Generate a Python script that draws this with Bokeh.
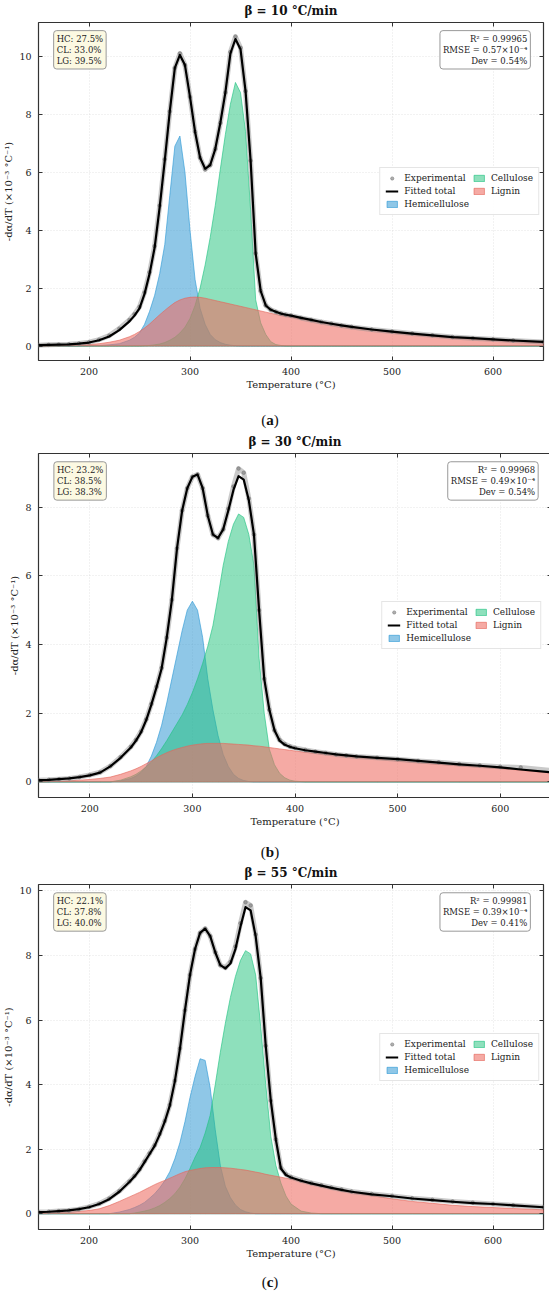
from bokeh.plotting import figure
from bokeh.models import (Range1d, LinearAxis, SingleIntervalTicker, Legend,
                          LegendItem, Label, Div)
from bokeh.layouts import column
from bokeh.embed import file_html
from bokeh.resources import INLINE

FONT = "DejaVu Serif"

# ---------------- data ----------------
temperature = [150, 160, 170, 180, 190, 200, 210, 220, 230, 240,
               245, 250, 255, 260, 265, 270, 275, 280, 285, 290,
               295, 300, 305, 310, 315, 320, 325, 330, 335, 340,
               345, 350, 355, 360, 365, 370, 375, 380, 385, 390,
               395, 400, 410, 420, 430, 440, 450, 460, 480, 500,
               520, 540, 560, 580, 600, 620, 650]

# beta = 10 C/min
fit_a = [0.03, 0.04, 0.05, 0.06, 0.08, 0.12, 0.20, 0.33, 0.55, 0.85,
         1.05, 1.30, 1.80, 2.50, 3.40, 4.80, 6.40, 8.10, 9.60, 10.05,
         9.70, 8.60, 7.40, 6.50, 6.12, 6.25, 6.80, 7.70, 8.75, 10.10,
         10.60, 10.25, 8.80, 6.40, 3.20, 1.90, 1.40, 1.25, 1.18, 1.12,
         1.08, 1.05, 0.97, 0.90, 0.83, 0.77, 0.71, 0.66, 0.57, 0.50,
         0.43, 0.37, 0.31, 0.27, 0.23, 0.19, 0.14]
exp_a = [0.03, 0.04, 0.05, 0.06, 0.09, 0.13, 0.22, 0.36, 0.60, 0.90,
         1.10, 1.35, 1.85, 2.55, 3.45, 4.85, 6.45, 8.10, 9.60, 10.10,
         9.70, 8.60, 7.40, 6.50, 6.10, 6.25, 6.80, 7.70, 8.75, 10.15,
         10.68, 10.30, 8.80, 6.40, 3.20, 1.90, 1.40, 1.25, 1.18, 1.12,
         1.08, 1.05, 0.97, 0.90, 0.83, 0.77, 0.71, 0.66, 0.57, 0.50,
         0.43, 0.37, 0.31, 0.27, 0.23, 0.19, 0.14]
hc_a = [0.0, 0.0, 0.0, 0.0, 0.0, 0.01, 0.02, 0.04, 0.08, 0.20,
        0.30, 0.45, 0.75, 1.20, 1.75, 2.50, 3.50, 5.20, 6.90, 7.25,
        6.00, 4.00, 2.30, 1.30, 0.75, 0.40, 0.22, 0.12, 0.06, 0.03,
        0.01, 0.0, 0.0, 0.0, 0.0, 0.0, 0.0, 0.0, 0.0, 0.0,
        0.0, 0.0, 0.0, 0.0, 0.0, 0.0, 0.0, 0.0, 0.0, 0.0,
        0.0, 0.0, 0.0, 0.0, 0.0, 0.0, 0.0]
cl_a = [0.0, 0.0, 0.0, 0.0, 0.0, 0.0, 0.0, 0.0, 0.0, 0.0,
        0.0, 0.0, 0.01, 0.02, 0.04, 0.07, 0.12, 0.20, 0.30, 0.45,
        0.65, 0.95, 1.40, 2.00, 2.80, 3.75, 4.85, 6.10, 7.30, 8.35,
        9.10, 8.75, 7.40, 4.70, 1.60, 0.80, 0.40, 0.15, 0.05, 0.02,
        0.0, 0.0, 0.0, 0.0, 0.0, 0.0, 0.0, 0.0, 0.0, 0.0,
        0.0, 0.0, 0.0, 0.0, 0.0, 0.0, 0.0]
lg_a = [0.0, 0.0, 0.01, 0.02, 0.03, 0.05, 0.08, 0.13, 0.20, 0.32,
        0.40, 0.50, 0.62, 0.76, 0.92, 1.08, 1.23, 1.37, 1.50, 1.59,
        1.65, 1.68, 1.69, 1.68, 1.65, 1.61, 1.57, 1.53, 1.49, 1.45,
        1.41, 1.37, 1.33, 1.29, 1.25, 1.21, 1.17, 1.13, 1.09, 1.06,
        1.03, 1.00, 0.94, 0.88, 0.82, 0.76, 0.71, 0.65, 0.56, 0.47,
        0.40, 0.34, 0.28, 0.24, 0.20, 0.16, 0.12]

# beta = 30 C/min
fit_b = [0.05, 0.06, 0.08, 0.10, 0.14, 0.19, 0.27, 0.45, 0.70, 1.00,
         1.20, 1.45, 1.80, 2.25, 2.75, 3.30, 4.20, 5.30, 6.80, 7.90,
         8.55, 8.88, 8.95, 8.55, 7.75, 7.20, 7.10, 7.35, 7.90, 8.50,
         8.90, 8.80, 8.20, 7.20, 5.00, 3.00, 2.10, 1.50, 1.20, 1.08,
         1.02, 0.98, 0.92, 0.88, 0.84, 0.80, 0.77, 0.74, 0.70, 0.66,
         0.61, 0.56, 0.51, 0.47, 0.42, 0.36, 0.28]
exp_b = [0.05, 0.06, 0.08, 0.10, 0.14, 0.20, 0.28, 0.46, 0.72, 1.02,
         1.22, 1.47, 1.82, 2.27, 2.77, 3.32, 4.20, 5.30, 6.80, 7.90,
         8.55, 8.88, 8.95, 8.55, 7.75, 7.20, 7.10, 7.35, 7.95, 8.60,
         9.12, 9.00, 8.25, 7.20, 5.00, 3.00, 2.10, 1.50, 1.22, 1.10,
         1.03, 0.99, 0.93, 0.88, 0.84, 0.80, 0.77, 0.74, 0.70, 0.66,
         0.61, 0.57, 0.52, 0.48, 0.44, 0.42, 0.33]
hc_b = [0.0, 0.0, 0.0, 0.0, 0.0, 0.0, 0.0, 0.0, 0.03, 0.10,
        0.17, 0.28, 0.45, 0.75, 1.15, 1.65, 2.30, 3.00, 3.70, 4.40,
        5.00, 5.26, 5.00, 4.20, 3.00, 2.10, 1.35, 0.80, 0.45, 0.22,
        0.10, 0.04, 0.01, 0.0, 0.0, 0.0, 0.0, 0.0, 0.0, 0.0,
        0.0, 0.0, 0.0, 0.0, 0.0, 0.0, 0.0, 0.0, 0.0, 0.0,
        0.0, 0.0, 0.0, 0.0, 0.0, 0.0, 0.0]
cl_b = [0.0, 0.0, 0.0, 0.0, 0.0, 0.0, 0.0, 0.0, 0.05, 0.15,
        0.22, 0.32, 0.44, 0.58, 0.76, 0.97, 1.20, 1.45, 1.70, 1.95,
        2.25, 2.60, 3.00, 3.45, 3.95, 4.55, 5.40, 6.30, 7.00, 7.50,
        7.80, 7.70, 7.20, 6.30, 3.60, 2.00, 0.95, 0.50, 0.25, 0.12,
        0.05, 0.02, 0.0, 0.0, 0.0, 0.0, 0.0, 0.0, 0.0, 0.0,
        0.0, 0.0, 0.0, 0.0, 0.0, 0.0, 0.0]
lg_b = [0.0, 0.01, 0.02, 0.03, 0.05, 0.07, 0.10, 0.14, 0.22, 0.32,
        0.38, 0.45, 0.53, 0.61, 0.70, 0.78, 0.85, 0.91, 0.96, 1.00,
        1.04, 1.07, 1.09, 1.11, 1.12, 1.12, 1.12, 1.12, 1.11, 1.10,
        1.09, 1.08, 1.07, 1.05, 1.04, 1.02, 1.00, 0.98, 0.96, 0.94,
        0.92, 0.90, 0.86, 0.83, 0.80, 0.77, 0.74, 0.71, 0.66, 0.61,
        0.56, 0.51, 0.47, 0.43, 0.39, 0.34, 0.26]

# beta = 55 C/min
fit_c = [0.05, 0.06, 0.08, 0.10, 0.14, 0.20, 0.30, 0.45, 0.68, 0.98,
         1.15, 1.35, 1.60, 1.85, 2.10, 2.45, 2.85, 3.35, 4.10, 5.10,
         6.30, 7.40, 8.20, 8.70, 8.83, 8.60, 8.10, 7.70, 7.60, 7.75,
         8.20, 8.90, 9.50, 9.40, 8.60, 7.30, 5.20, 3.50, 2.30, 1.40,
         1.20, 1.12, 1.02, 0.94, 0.87, 0.80, 0.74, 0.68, 0.60, 0.54,
         0.47, 0.42, 0.37, 0.33, 0.30, 0.26, 0.20]
exp_c = [0.05, 0.06, 0.08, 0.10, 0.14, 0.21, 0.31, 0.47, 0.70, 1.00,
         1.17, 1.37, 1.62, 1.87, 2.12, 2.47, 2.87, 3.37, 4.12, 5.12,
         6.30, 7.40, 8.20, 8.70, 8.83, 8.60, 8.10, 7.70, 7.62, 7.80,
         8.28, 9.00, 9.65, 9.55, 8.65, 7.30, 5.20, 3.50, 2.30, 1.42,
         1.22, 1.13, 1.03, 0.95, 0.88, 0.81, 0.75, 0.69, 0.61, 0.55,
         0.48, 0.43, 0.38, 0.34, 0.30, 0.26, 0.20]
hc_c = [0.0, 0.0, 0.0, 0.0, 0.0, 0.0, 0.0, 0.0, 0.05, 0.13,
        0.19, 0.26, 0.35, 0.48, 0.62, 0.80, 1.02, 1.30, 1.70, 2.20,
        2.85, 3.60, 4.25, 4.80, 4.75, 3.90, 2.60, 1.50, 0.85, 0.50,
        0.27, 0.13, 0.06, 0.02, 0.0, 0.0, 0.0, 0.0, 0.0, 0.0,
        0.0, 0.0, 0.0, 0.0, 0.0, 0.0, 0.0, 0.0, 0.0, 0.0,
        0.0, 0.0, 0.0, 0.0, 0.0, 0.0, 0.0]
cl_c = [0.0, 0.0, 0.0, 0.0, 0.0, 0.0, 0.0, 0.0, 0.0, 0.0,
        0.02, 0.05, 0.08, 0.12, 0.18, 0.25, 0.35, 0.47, 0.62, 0.82,
        1.08, 1.40, 1.75, 2.05, 2.50, 3.05, 4.00, 5.00, 5.90, 6.70,
        7.35, 7.85, 8.15, 8.05, 7.40, 5.80, 4.00, 2.40, 1.50, 0.95,
        0.55, 0.30, 0.08, 0.02, 0.0, 0.0, 0.0, 0.0, 0.0, 0.0,
        0.0, 0.0, 0.0, 0.0, 0.0, 0.0, 0.0]
lg_c = [0.01, 0.02, 0.03, 0.05, 0.07, 0.10, 0.15, 0.25, 0.38, 0.52,
        0.59, 0.66, 0.74, 0.82, 0.90, 0.97, 1.03, 1.10, 1.17, 1.24,
        1.30, 1.34, 1.37, 1.40, 1.42, 1.43, 1.43, 1.43, 1.42, 1.41,
        1.39, 1.37, 1.35, 1.32, 1.29, 1.26, 1.22, 1.19, 1.16, 1.13,
        1.10, 1.07, 1.00, 0.93, 0.86, 0.80, 0.73, 0.67, 0.56, 0.46,
        0.38, 0.32, 0.26, 0.22, 0.19, 0.16, 0.12]

titles = ["β = 10 °C/min", "β = 30 °C/min", "β = 55 °C/min"]
fraction_text = ["HC: 27.5%\nCL: 33.0%\nLG: 39.5%",
                 "HC: 23.2%\nCL: 38.5%\nLG: 38.3%",
                 "HC: 22.1%\nCL: 37.8%\nLG: 40.0%"]
stats_text = ["R² = 0.99965\nRMSE = 0.57×10⁻⁴\nDev = 0.54%",
              "R² = 0.99968\nRMSE = 0.49×10⁻⁴\nDev = 0.54%",
              "R² = 0.99981\nRMSE = 0.39×10⁻⁴\nDev = 0.41%"]
captions = ["a", "b", "c"]
x_limits = (150, 650)
y_limits = [(-0.50, 11.17), (-0.455, 9.56), (-0.49, 10.20)]

series = [(exp_a, fit_a, hc_a, cl_a, lg_a),
          (exp_b, fit_b, hc_b, cl_b, lg_b),
          (exp_c, fit_c, hc_c, cl_c, lg_c)]

# layout (page pixels)
frame_heights = [338, 344, 345]
frame_widths = [505, 513, 505]
left_borders = [31, 24, 31]
top_borders = [18, 20, 20]
caption_heights = [27, 21, 17]
caption_pad = [7, 2, 0]

HC_COL, HC_EDGE = "#1f8fd0", "#2f9ad6"
CL_COL, CL_EDGE = "#1dc179", "#22c383"
LG_COL, LG_EDGE = "#ee6c62", "#e5675c"


def make_panel(i):
    exp, fit, hc, cl, lg = series[i]
    y0, y1 = y_limits[i]
    p = figure(frame_width=frame_widths[i], frame_height=frame_heights[i],
               output_backend="svg",
               toolbar_location=None, x_range=Range1d(*x_limits),
               y_range=Range1d(y0, y1),
               min_border_left=left_borders[i], min_border_right=3,
               min_border_top=top_borders[i], min_border_bottom=44,
               margin=0)
    p.background_fill_color = "white"
    p.border_fill_color = "white"
    p.outline_line_color = "#333333"
    p.outline_line_width = 1.2

    p.title.text = titles[i]
    p.title.align = "center"
    p.title.text_font = FONT
    p.title.text_font_size = "12px"
    p.title.text_font_style = "bold"
    p.title.text_color = "#111111"
    p.title.standoff = 2
    p.title.offset = 0

    xt = SingleIntervalTicker(interval=100)
    yt = SingleIntervalTicker(interval=2)
    p.xaxis.ticker = xt
    p.yaxis.ticker = yt
    for ax in (p.xaxis[0], p.yaxis[0]):
        ax.axis_line_color = None
        ax.major_tick_in = 4
        ax.major_tick_out = 0
        ax.major_tick_line_color = "#333333"
        ax.minor_tick_line_color = None
        ax.major_label_text_font = FONT
        ax.major_label_text_font_size = "9.5px"
        ax.major_label_text_color = "#222222"
        ax.major_label_standoff = 3
        ax.axis_label_text_font = FONT
        ax.axis_label_text_font_size = "10px"
        ax.axis_label_text_font_style = "normal"
        ax.axis_label_text_color = "#222222"
        ax.axis_label_standoff = 2
    p.xaxis.axis_label_standoff = 1
    p.xaxis.axis_label = "Temperature (°C)"
    p.yaxis.axis_label = "-dα/dT (×10⁻³ °C⁻¹)"

    for side, tk in (("right", yt), ("above", xt)):
        ax = LinearAxis(ticker=tk)
        ax.axis_line_color = None
        ax.major_tick_in = 4
        ax.major_tick_out = 0
        ax.major_tick_line_color = "#333333"
        ax.minor_tick_line_color = None
        ax.major_label_text_font_size = "1px"
        ax.major_label_text_color = None
        ax.major_label_standoff = 0
        ax.axis_label_standoff = 0
        p.add_layout(ax, side)

    p.xgrid.ticker = xt
    p.ygrid.ticker = yt
    p.grid.grid_line_color = "#c8c8c8"
    p.grid.grid_line_alpha = 0.6
    p.grid.grid_line_dash = "1 2"
    p.grid.grid_line_width = 0.8

    n = len(temperature)
    xs = temperature + temperature[::-1]
    r_hc = p.patch(xs, hc + [0.0] * n, fill_color=HC_COL, fill_alpha=0.5,
                   line_color=HC_EDGE, line_width=0.8, line_alpha=0.8)
    r_cl = p.patch(xs, cl + [0.0] * n, fill_color=CL_COL, fill_alpha=0.5,
                   line_color=CL_EDGE, line_width=0.8, line_alpha=0.8)
    r_lg = p.patch(xs, lg + [0.0] * n, fill_color=LG_COL, fill_alpha=0.58,
                   line_color=LG_EDGE, line_width=0.8, line_alpha=0.8)
    p.line(temperature, exp, line_color="#8a8a8a", line_width=5,
           line_alpha=0.45, line_join="round")
    r_exp = p.scatter(temperature, exp, size=3.5, marker="circle",
                      fill_color="#7a7a7a", fill_alpha=0.6,
                      line_color="#7a7a7a", line_alpha=0.6)
    r_fit = p.line(temperature, fit, line_color="black", line_width=2.2,
                   line_join="round")

    legend = Legend(items=[
        LegendItem(label="Experimental", renderers=[r_exp]),
        LegendItem(label="Fitted total", renderers=[r_fit]),
        LegendItem(label="Hemicellulose", renderers=[r_hc]),
        LegendItem(label="Cellulose", renderers=[r_cl]),
        LegendItem(label="Lignin", renderers=[r_lg]),
    ], location="center_right", nrows=3)
    legend.label_text_font = FONT
    legend.label_text_font_size = "9px"
    legend.label_text_color = "#222222"
    legend.label_height = 10
    legend.glyph_height = 8
    legend.glyph_width = 13
    legend.label_standoff = 6
    legend.spacing = 3
    legend.padding = 5
    legend.margin = 4
    legend.border_line_color = "#cccccc"
    legend.background_fill_alpha = 0.9
    p.add_layout(legend)

    xr = x_limits[1] - x_limits[0]
    yr = y1 - y0
    p.add_layout(Label(x=x_limits[0] + 0.030 * xr, y=y1 - 0.024 * yr,
                       text=fraction_text[i], text_font=FONT,
                       text_font_size="8.5px", text_color="#222222",
                       text_align="left", text_baseline="top",
                       text_line_height=1.12,
                       background_fill_color="#fcf9e2",
                       border_line_color="#999999", border_line_width=1,
                       padding=3, border_radius=3))
    p.add_layout(Label(x=x_limits[1] - 0.026 * xr, y=y1 - 0.024 * yr,
                       text=stats_text[i], text_font=FONT,
                       text_font_size="8.5px", text_color="#222222",
                       text_align="right", text_baseline="top",
                       text_line_height=1.12,
                       background_fill_color="white",
                       border_line_color="#999999", border_line_width=1,
                       padding=3, border_radius=3))
    return p


items = []
for i in range(3):
    items.append(make_panel(i))
    items.append(Div(
        text=('<div style="display:block;width:540px;text-align:center;'
              'font-family:\'Liberation Serif\',serif;font-size:15px;'
              'line-height:18px;padding-top:%dpx;color:#111">'
              '(<b>%s</b>)</div>') % (caption_pad[i], captions[i]),
        width=540, height=caption_heights[i], margin=0,
        styles={"text-align": "center", "width": "540px"}))

layout = column(*items, spacing=0, margin=0)
open("out.html", "w").write(file_html(layout, INLINE))
